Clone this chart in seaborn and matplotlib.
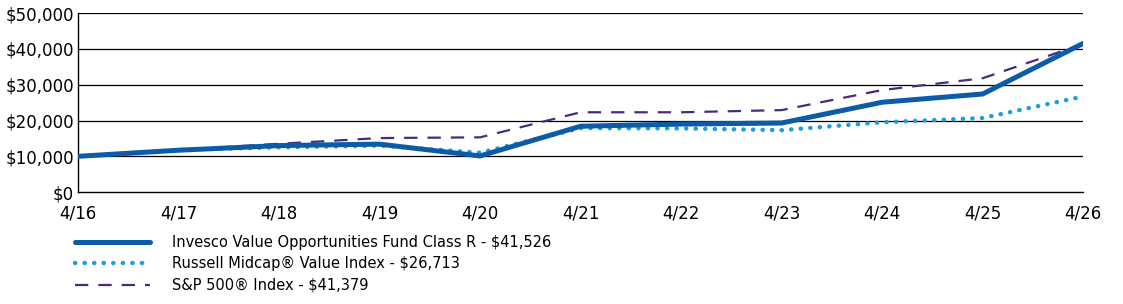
import matplotlib
matplotlib.use("Agg")
import matplotlib.pyplot as plt
import seaborn as sns
import pandas as pd
from matplotlib.ticker import FuncFormatter

years = ["4/16", "4/17", "4/18", "4/19", "4/20", "4/21", "4/22", "4/23", "4/24", "4/25", "4/26"]
fund = [10000, 11700, 13000, 13400, 10100, 18400, 19000, 19300, 25100, 27400, 41526]
russell = [10000, 11800, 12500, 13000, 11000, 17900, 17800, 17300, 19500, 20700, 26713]
sp500 = [10000, 11800, 13500, 15100, 15300, 22300, 22300, 22900, 28500, 31800, 41379]

labels = [
    "Invesco Value Opportunities Fund Class R - $41,526",
    "Russell Midcap® Value Index - $26,713",
    "S&P 500® Index - $41,379",
]

sns.set_style("white")
plt.rcParams["font.family"] = ["DejaVu Sans"]
plt.rcParams["text.parse_math"] = False
plt.rcParams["text.color"] = "black"
plt.rcParams["xtick.color"] = "black"
plt.rcParams["ytick.color"] = "black"

df = pd.DataFrame({"x": range(len(years)), "fund": fund, "russell": russell, "sp": sp500})

fig = plt.figure(figsize=(11.23, 3.04), dpi=100)
ax = fig.add_axes([0.0695, 0.368, 0.895, 0.589])

for v in range(10000, 50001, 10000):
    ax.axhline(v, color="black", lw=0.9, zorder=0)

sns.lineplot(data=df, x="x", y="sp", ax=ax, color="#4a2a80", lw=1.6,
             linestyle=(0, (6, 4.5)), label=labels[2], zorder=2)
sns.lineplot(data=df, x="x", y="russell", ax=ax, color="#1a9fdb", lw=3.2,
             linestyle=(0, (0.05, 2.1)), dash_capstyle="round", label=labels[1], zorder=3)
sns.lineplot(data=df, x="x", y="fund", ax=ax, color="#0b5ba7", lw=3.6,
             label=labels[0], zorder=4)

ax.set_xlim(0, len(years) - 1)
ax.set_ylim(0, 50000)
ax.set_xticks(range(len(years)))
ax.set_xticklabels(years)
ax.set_yticks(range(0, 50001, 10000))
ax.yaxis.set_major_formatter(FuncFormatter(lambda v, p: f"${v:,.0f}"))
ax.set_xlabel("")
ax.set_ylabel("")
for s in ["top", "right"]:
    ax.spines[s].set_visible(False)
for s in ["left", "bottom"]:
    ax.spines[s].set_color("black")
    ax.spines[s].set_linewidth(1.0)
ax.tick_params(axis="x", direction="out", length=8, width=1, color="black",
               labelcolor="black", labelsize=12, pad=1)
ax.tick_params(axis="y", length=0, labelcolor="black", labelsize=12, pad=3)

handles, lbls = ax.get_legend_handles_labels()
ax.get_legend().remove()
order = [2, 1, 0]
fig.legend([handles[i] for i in order], [lbls[i] for i in order],
           loc="upper left", bbox_to_anchor=(0.062, 0.247), frameon=False,
           fontsize=10.5, handlelength=5.1, handletextpad=1.5,
           labelspacing=0.45, borderaxespad=0, labelcolor="black")

fig.savefig("out.png", dpi=100)
